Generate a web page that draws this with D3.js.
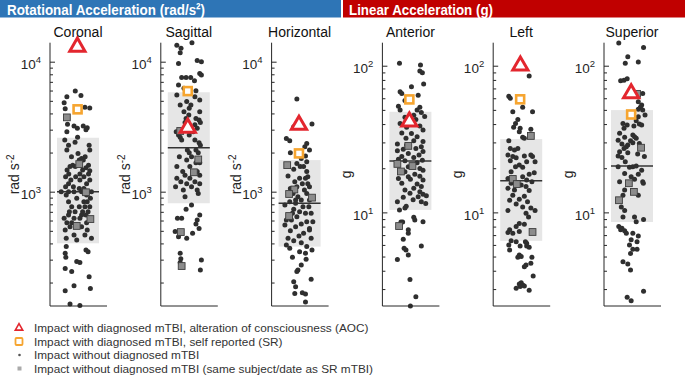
<!DOCTYPE html>
<html>
<head>
<meta charset="utf-8">
<script src="https://cdn.jsdelivr.net/npm/d3@7"></script>
<style>
  body { margin: 0; background: #fff; }
  text { font-family: "Liberation Sans", Arial, Helvetica, sans-serif; }
</style>
</head>
<body>
<div id="chart"></div>
<script>
// panel names, units and box summaries (25th pct, median, 75th pct)
var panelNames = ["Coronal", "Sagittal", "Horizontal", "Anterior", "Left", "Superior"];
var panelUnits = ["rad", "rad", "rad", "g", "g", "g"];
var boxLow  = [401, 815, 378, 10.4, 6.4, 8.6];
var boxMed  = [1000, 2180, 815, 22.4, 16.4, 20.7];
var boxHigh = [2600, 5820, 1750, 48.5, 31.6, 49.8];

// points are [jitter, value]
var aocPoints = [[-0.03, 13000], [-0.05, 3100], [-0.03, 3260], [-0.05, 41.5], [-0.04, 100], [-0.04, 64.7]];
var srPoints  = [[-0.02, 4300], [-0.05, 5940], [-0.03, 1970], [-0.05, 58.9], [-0.05, 59], [-0.04, 46.5]];

var coronalGray = [[-0.53, 3730], [0.06, 1630], [0.38, 990], [0.59, 616], [-0.06, 545]];
var sagittalGray = [[-0.41, 2930], [0.45, 1770], [0.24, 1410], [-0.38, 489], [-0.34, 268]];
var horizontalGray = [[-0.59, 1600], [-0.25, 1040], [-0.5, 960], [0.59, 900], [-0.5, 650]];
var anteriorGray = [[-0.1, 28.4], [-0.62, 21.4], [-0.45, 19], [0.1, 20.7], [-0.54, 8.07]];
var leftGray = [[0.46, 33.2], [-0.4, 16.9], [-0.21, 15.6], [0.54, 7.35]];
var superiorGray = [[0.24, 64.3], [0.43, 27.6], [-0.15, 15.8], [0.09, 13.8], [-0.62, 12.1]];

var coronalDots = [
  [-0.13, 5940], [-0.53, 5380], [0.14, 5500], [-0.66, 4840], [0.33, 4460], [0.56, 4400], [-0.61, 4350],
  [-0.5, 3300], [-0.19, 3200], [0.25, 3200], [0.44, 3100], [-0.03, 3070], [0.38, 3000], [-0.53, 2890],
  [-0.02, 2620], [-0.63, 2500], [-0.14, 2400], [-0.45, 2280], [0.53, 2280], [0.56, 2090], [-0.53, 2090],
  [0, 1970], [-0.31, 1860], [0.34, 1860], [0.17, 1800], [0.25, 1750], [0.06, 1750], [-0.25, 1600],
  [0.5, 1600], [-0.38, 1560], [-0.13, 1560], [0.38, 1530], [-0.52, 1470], [0.22, 1470], [0.56, 1450],
  [-0.44, 1370], [0.09, 1370], [0.5, 1370], [-0.59, 1300], [-0.11, 1300], [0.28, 1300], [-0.34, 1230],
  [0.09, 1230], [0.56, 1230], [-0.45, 1150], [0.41, 1150], [-0.59, 1090], [-0.22, 1090], [0.06, 1060],
  [0.28, 1060], [-0.8, 1000], [-0.45, 1000], [-0.19, 1000], [0.17, 1000], [0.64, 1000], [-0.56, 943],
  [0.41, 943], [-0.06, 889], [0.59, 889], [-0.45, 838], [0.28, 838], [0.44, 838], [-0.3, 767],
  [0.06, 767], [0.33, 767], [0.56, 767], [-0.41, 702], [-0.14, 702], [0.22, 702], [0.48, 702],
  [-0.45, 662], [0.17, 662], [0.38, 662], [-0.66, 624], [-0.19, 624], [0.09, 624], [-0.53, 578],
  [-0.3, 578], [0.41, 578], [-0.38, 538], [0.17, 538], [-0.61, 507], [0.44, 507], [-0.19, 464],
  [0.33, 464], [-0.56, 438], [0.64, 438], [-0.06, 425], [-0.56, 378], [0.38, 356], [0.48, 345],
  [-0.61, 336], [-0.58, 313], [-0.06, 290], [0.09, 285], [-0.61, 257], [-0.3, 243], [0.53, 222],
  [-0.19, 189], [0.59, 180], [-0.61, 173], [-0.38, 137], [0.09, 133]
];

var sagittalDots = [
  [0.15, 14000], [-0.57, 13400], [-0.37, 12700], [-0.41, 11700], [0.4, 10200], [0.6, 10000],
  [-0.49, 9700], [0.52, 8130], [0.6, 7890], [-0.34, 7570], [-0.13, 7570], [0.09, 7570], [0.27, 7140],
  [-0.49, 6620], [-0.23, 6240], [0.34, 5990], [-0.57, 5540], [0.29, 5380], [0.52, 5070], [-0.1, 4930],
  [-0.41, 4640], [0.1, 4640], [0.02, 4390], [-0.23, 4120], [0.52, 4120], [0, 3890], [-0.13, 3660],
  [0.34, 3660], [0.49, 3560], [-0.18, 3400], [0.55, 3400], [0.29, 3280], [0.4, 3070], [-0.6, 2890],
  [0.21, 2890], [-0.49, 2730], [0.02, 2730], [-0.41, 2620], [-0.34, 2500], [0.29, 2500], [0.49, 2380],
  [0.55, 2280], [-0.07, 2090], [0.34, 2090], [0.02, 1990], [0.45, 1990], [-0.45, 1860], [0.13, 1860],
  [-0.1, 1750], [0.34, 1670], [0.52, 1670], [-0.57, 1560], [0.05, 1560], [-0.29, 1430], [0.4, 1430],
  [-0.18, 1340], [0.52, 1340], [-0.57, 1270], [0.05, 1270], [-0.38, 1190], [0.29, 1190], [-0.1, 1150],
  [0.52, 1150], [-0.63, 1090], [0.13, 1090], [-0.26, 1030], [0.4, 1030], [0.45, 970], [-0.18, 915],
  [0.13, 789], [-0.13, 732], [0.52, 662], [-0.54, 624], [-0.34, 624], [0.4, 605], [0.34, 564],
  [0.49, 522], [-0.65, 493], [0.18, 478], [-0.49, 451], [-0.1, 438], [-0.41, 336], [-0.38, 305],
  [0.6, 298], [0.55, 250], [-0.41, 285]
];

var horizontalDots = [
  [-0.13, 5160], [0.59, 3320], [-0.28, 3160], [-0.63, 2570], [-0.47, 2470], [0.34, 2350], [0.25, 2220],
  [0.47, 2090], [-0.44, 1990], [0.28, 1880], [0.08, 1800], [0.34, 1700], [0.03, 1560], [0.19, 1560],
  [-0.28, 1490], [0.34, 1430], [-0.55, 1320], [0, 1270], [0.28, 1270], [-0.23, 1190], [0.13, 1150],
  [0.39, 1150], [-0.13, 1090], [0.23, 1030], [-0.31, 970], [0.34, 970], [-0.08, 915], [0.08, 863],
  [0.47, 863], [-0.19, 813], [-0.7, 789], [0.16, 767], [-0.28, 732], [0, 702], [0.28, 681], [0.55, 681],
  [-0.13, 642], [-0.63, 605], [-0.39, 605], [0.34, 588], [0.63, 588], [0.08, 564], [-0.19, 538],
  [0.47, 522], [-0.44, 501], [0.19, 478], [-0.03, 456], [-0.55, 438], [0.55, 438], [-0.28, 420],
  [0.08, 405], [-0.63, 389], [0.34, 378], [-0.47, 367], [0.59, 356], [0, 345], [-0.34, 313],
  [0.28, 336], [0.31, 302], [0.08, 273], [-0.08, 250], [-0.13, 243], [0.55, 212], [-0.28, 203],
  [-0.19, 186], [0.13, 167], [0.28, 163], [-0.23, 165], [0.28, 142], [-0.44, 1060], [-0.47, 838],
  [0.44, 767], [-0.7, 555], [0.47, 507], [0.39, 1300], [-0.13, 1650], [-0.34, 681], [-0.19, 863],
  [0.47, 1090]
];

var anteriorDots = [
  [-0.52, 104], [0.48, 101], [0.45, 92], [0.57, 89.5], [0.63, 75], [0.05, 72], [-0.49, 66.5],
  [-0.41, 64.7], [0.37, 63], [-0.26, 58], [-0.57, 53], [0.45, 52], [-0.49, 49.9], [0.32, 49.9],
  [0.52, 47.9], [0.16, 46], [0.68, 45], [-0.26, 44.5], [0.26, 43], [-0.49, 40.4], [0.45, 38.8],
  [-0.18, 38], [0.6, 36.5], [-0.41, 34.8], [0.05, 34.5], [0.32, 32.8], [-0.21, 32], [0.16, 30.8],
  [0.6, 30.4], [-0.62, 29.3], [-0.18, 28.8], [0.52, 28], [0.26, 27.3], [-0.34, 26.9], [-0.62, 26.3],
  [0.6, 26], [-0.1, 25.2], [0.41, 24.6], [-0.41, 24], [0.16, 23.7], [-0.57, 23], [0.57, 22.7],
  [-0.26, 22.5], [0.32, 21.8], [-0.1, 20.5], [0.45, 19.9], [0.6, 19.4], [-0.26, 18.9], [0.21, 18.2],
  [0.45, 17.6], [-0.1, 17.5], [-0.57, 17], [0, 16.8], [0.6, 16.6], [-0.41, 15.8], [0.32, 15.6],
  [0.52, 15], [0.16, 14.6], [-0.26, 14.2], [0.45, 13.8], [-0.02, 13.5], [0.6, 13.3], [0.37, 12.8],
  [0.76, 13], [-0.34, 12.7], [0.13, 12.2], [0.52, 11.8], [-0.62, 11.8], [0.73, 11.5], [-0.2, 11],
  [-0.52, 10.4], [-0.26, 10.7], [0.6, 8.64], [0.16, 9.25], [0.21, 8.87], [-0.37, 8.6], [-0.45, 8.6],
  [-0.1, 7.6], [-0.1, 7.2], [-0.34, 6.55], [-0.3, 5.69], [-0.21, 5.54], [0.52, 5.89], [-0.62, 4.78],
  [-0.1, 5.12], [-0.02, 3.49], [0.26, 2.66], [0, 2.3]
];

var leftDots = [
  [0.38, 85.1], [-0.59, 62], [-0.52, 60], [0.07, 52], [-0.4, 48.5], [0.54, 48.5], [-0.16, 43],
  [-0.27, 40.4], [-0.36, 38], [-0.05, 37.4], [0.46, 36.9], [-0.09, 35.5], [0.07, 32.5], [0.15, 32],
  [-0.59, 30.8], [-0.52, 27.3], [-0.32, 26.6], [-0.16, 27.3], [-0.63, 24.6], [-0.4, 24], [0.46, 24.6],
  [0.54, 24], [-0.24, 23.6], [0.15, 24.2], [0.66, 22.1], [-0.52, 22.5], [-0.09, 21], [0.26, 22.1],
  [-0.27, 20.5], [0.07, 20.3], [-0.48, 18.9], [0.38, 18.2], [0.62, 18.6], [0.07, 17.5], [-0.63, 17],
  [0.26, 16.6], [0.51, 16.2], [-0.48, 15.8], [0, 15.4], [0.23, 15], [-0.63, 14.6], [-0.32, 14.2],
  [0.38, 14.1], [-0.4, 13.1], [0.15, 12.9], [-0.55, 12.1], [-0.09, 12.3], [0.3, 11.8], [-0.24, 11.4],
  [0.07, 10.9], [0.46, 10.7], [-0.63, 10.3], [0.66, 10.3], [0.23, 9.85], [0.35, 9.3], [-0.09, 8.4],
  [-0.24, 8], [0.15, 8.3], [-0.55, 7.6], [-0.63, 7.3], [-0.4, 7.2], [-0.09, 7.4], [-0.48, 6.4],
  [-0.24, 6.3], [0.2, 6.3], [0.26, 6.15], [-0.59, 6], [-0.05, 5.9], [0.26, 5.9], [0.38, 5.78],
  [-0.55, 5.54], [-0.09, 5.12], [0, 5], [-0.16, 4.94], [0.51, 4.94], [0.46, 4.5], [0.23, 4.37],
  [0.15, 4.26], [0.57, 3.68], [0, 3.31], [-0.09, 3.25], [0.07, 3.2], [-0.24, 3.04], [-0.05, 3.12],
  [0.15, 3.15], [0.38, 2.95]
];

var superiorDots = [
  [-0.63, 143], [0.55, 133], [-0.2, 115], [-0.32, 104], [0.3, 106], [-0.54, 78.9], [-0.38, 79.7],
  [-0.23, 81.6], [0.51, 64.7], [0.3, 56.9], [0.46, 54], [0.4, 52], [0.3, 50.4], [0.51, 49.9],
  [0.62, 46.1], [0.3, 44.9], [0.2, 42.2], [-0.43, 40.4], [-0.23, 39.4], [0.35, 40], [0.46, 39.4],
  [0.09, 38.8], [-0.38, 37.4], [-0.59, 34.6], [0.04, 33.7], [-0.35, 32.5], [0.12, 32.8], [0.2, 32],
  [-0.07, 30.8], [-0.66, 31], [-0.48, 29.3], [0.04, 29.8], [-0.2, 28.8], [-0.27, 28], [0.35, 29.5],
  [-0.38, 27.3], [-0.59, 25.9], [-0.2, 25.5], [-0.66, 24.2], [0.27, 25], [-0.48, 23.7], [0.59, 24],
  [-0.32, 22.1], [-0.66, 20.5], [0.04, 20.5], [0.2, 20.7], [-0.12, 20.3], [0.46, 19.4], [-0.35, 18.4],
  [0.3, 18.2], [-0.04, 17.5], [-0.59, 16.2], [0.51, 16.2], [0.12, 16.8], [0.54, 15.8], [-0.35, 14.2],
  [-0.43, 13.1], [0.3, 13.1], [-0.51, 10.9], [-0.35, 10.3], [-0.43, 9.3], [0.55, 8.96], [0.12, 9.3],
  [0.2, 8.64], [-0.63, 8], [-0.48, 7.8], [-0.54, 7.6], [-0.35, 7.5], [-0.27, 7.2], [0.04, 7.2],
  [0.3, 6.9], [-0.04, 6.5], [0.24, 6.3], [-0.12, 6], [0.04, 5.6], [0.24, 5.6], [-0.07, 5.25],
  [-0.43, 4.6], [-0.2, 4.45], [-0.07, 4.05], [-0.23, 2.64], [-0.04, 2.5], [0.55, 2.9]
];

var panelDots = [coronalDots, sagittalDots, horizontalDots, anteriorDots, leftDots, superiorDots];
var panelGray = [coronalGray, sagittalGray, horizontalGray, anteriorGray, leftGray, superiorGray];

var legendLabels = [
  "Impact with diagnosed mTBI, alteration of consciousness (AOC)",
  "Impact with diagnosed mTBI, self reported (SR)",
  "Impact without diagnosed mTBI",
  "Impact without diagnosed mTBI (same subject/date as SR mTBI)"
];

var width = 685, height = 376;
var red = "#e3262e", orange = "#f6a530", ink = "#262626";

var svg = d3.select("#chart").append("svg")
  .attr("width", width)
  .attr("height", height);

// header bars
svg.append("rect").attr("x", 0).attr("y", 0).attr("width", 341).attr("height", 17.5).attr("fill", "#2e75b6");
svg.append("rect").attr("x", 343).attr("y", 0).attr("width", 342).attr("height", 17.5).attr("fill", "#c00000");
svg.append("text").attr("x", 7).attr("y", 14.5)
  .attr("fill", "#fff").attr("font-weight", "bold").attr("font-size", 15.5)
  .attr("textLength", 198).attr("lengthAdjust", "spacingAndGlyphs")
  .text("Rotational Acceleration (rad/s²)");
svg.append("text").attr("x", 349).attr("y", 14.5)
  .attr("fill", "#fff").attr("font-weight", "bold").attr("font-size", 15.5)
  .attr("textLength", 144).attr("lengthAdjust", "spacingAndGlyphs")
  .text("Linear Acceleration (g)");

var plotTop = 42.7, plotBottom = 306, plotW = 57;

var yRot = d3.scaleLog().domain([132, 14000]).range([plotBottom, plotTop]);
var yLin = d3.scaleLog().domain([2.3, 143.5]).range([plotBottom, plotTop]);

var x = d3.scaleLinear().domain([-1, 1]).range([7, 49]);

var triangle = d3.symbol().type(d3.symbolTriangle).size(100);

panelNames.forEach(function(name, i) {
  var y = panelUnits[i] == "rad" ? yRot : yLin;
  var g = svg.append("g").attr("transform", "translate(" + (50 + i * 110.8) + ",0)");

  // box of the middle half
  g.append("rect")
    .attr("x", x(-1)).attr("width", x(1) - x(-1))
    .attr("y", y(boxHigh[i])).attr("height", y(boxLow[i]) - y(boxHigh[i]))
    .attr("fill", "#e6e6e6");

  g.append("line")
    .attr("x1", x(-1)).attr("x2", x(1))
    .attr("y1", y(boxMed[i])).attr("y2", y(boxMed[i]))
    .attr("stroke", "#333").attr("stroke-width", 1.5);

  // impacts without mTBI
  g.selectAll(".dot")
    .data(panelDots[i])
    .enter()
    .append("circle")
      .attr("cx", function(d) { return x(d[0]) })
      .attr("cy", function(d) { return y(d[1]) })
      .attr("r", 2.5)
      .attr("fill", "#2f2f2f");

  // same subject/date as SR
  g.selectAll(".gray")
    .data(panelGray[i])
    .enter()
    .append("rect")
      .attr("x", function(d) { return x(d[0]) - 3.4 })
      .attr("y", function(d) { return y(d[1]) - 3.4 })
      .attr("width", 6.8).attr("height", 6.8)
      .attr("fill", "#8c8c8c")
      .attr("stroke", "#3c3c3c").attr("stroke-width", 0.9);

  // self reported
  var sr = srPoints[i];
  g.append("rect")
    .attr("x", x(sr[0]) - 4).attr("y", y(sr[1]) - 4)
    .attr("width", 8).attr("height", 8)
    .attr("fill", "#fff")
    .attr("stroke", orange).attr("stroke-width", 2.6);

  // AOC
  var aoc = aocPoints[i];
  g.append("path")
    .attr("d", triangle())
    .attr("transform", "translate(" + x(aoc[0]) + "," + y(aoc[1]) + ")")
    .attr("fill", "#fff")
    .attr("stroke", red).attr("stroke-width", 3)
    .attr("stroke-linejoin", "miter");

  // axes
  var lo = Math.ceil(Math.log10(y.domain()[0])), hi = Math.floor(Math.log10(y.domain()[1]));
  var majors = d3.range(lo, hi + 1).map(function(e) { return Math.pow(10, e) });
  var minors = [];
  y.ticks().forEach(function(t) { if (majors.indexOf(t) < 0) minors.push(t) });

  g.append("g")
    .call(d3.axisLeft(y).tickValues(minors).tickSize(-3).tickSizeOuter(0).tickFormat(""))
    .call(function(a) { a.select(".domain").remove() })
    .selectAll("line").attr("stroke", ink);

  var ax = g.append("g")
    .call(d3.axisLeft(y).tickValues(majors).tickSize(-5).tickSizeOuter(0).tickPadding(9).tickFormat(""));
  ax.select(".domain").attr("stroke", ink).attr("d", "M0," + plotTop + "V" + plotBottom);
  ax.selectAll("line").attr("stroke", ink);
  ax.selectAll(".tick text").each(function(d) {
    var t = d3.select(this).attr("font-size", 13.5).attr("fill", ink).attr("dy", "0.5em")
      .attr("font-family", "'Liberation Sans', Arial, sans-serif");
    t.text("10");
    t.append("tspan").attr("dy", "-0.6em").attr("font-size", 9.5).text(Math.round(Math.log10(d)));
  });

  g.append("line")
    .attr("x1", 0).attr("x2", plotW)
    .attr("y1", plotBottom).attr("y2", plotBottom)
    .attr("stroke", ink);

  // titles
  g.append("text")
    .attr("x", x(0)).attr("y", 37)
    .attr("text-anchor", "middle").attr("font-size", 14).attr("fill", "#111")
    .text(name);

  var lab = g.append("text")
    .attr("transform", "translate(-31," + ((plotTop + plotBottom) / 2) + ") rotate(-90)")
    .attr("text-anchor", "middle").attr("font-size", 14).attr("fill", ink);
  if (panelUnits[i] == "rad") {
    lab.text("rad s");
    lab.append("tspan").attr("dy", "-0.5em").attr("font-size", 10).text("-2");
  } else {
    lab.text("g");
  }
});

// legend
var legend = svg.append("g");
legendLabels.forEach(function(label, i) {
  var ly = 328 + i * 13.5;
  if (i == 0) {
    legend.append("path")
      .attr("d", d3.symbol().type(d3.symbolTriangle).size(24)())
      .attr("transform", "translate(19," + ly + ")")
      .attr("fill", "#fff").attr("stroke", red).attr("stroke-width", 1.6);
  } else if (i == 1) {
    legend.append("rect").attr("x", 15.5).attr("y", ly - 3.5).attr("width", 7).attr("height", 7)
      .attr("rx", 1)
      .attr("fill", "#fff").attr("stroke", orange).attr("stroke-width", 1.8);
  } else if (i == 2) {
    legend.append("circle").attr("cx", 19.5).attr("cy", ly).attr("r", 1.3).attr("fill", "#555");
  } else {
    legend.append("rect").attr("x", 17.5).attr("y", ly - 2).attr("width", 4).attr("height", 4)
      .attr("fill", "#aaa");
  }
  legend.append("text")
    .attr("x", 34).attr("y", ly + 4.3)
    .attr("font-size", 11.8).attr("fill", "#333")
    .text(label);
});
</script>
</body>
</html>
